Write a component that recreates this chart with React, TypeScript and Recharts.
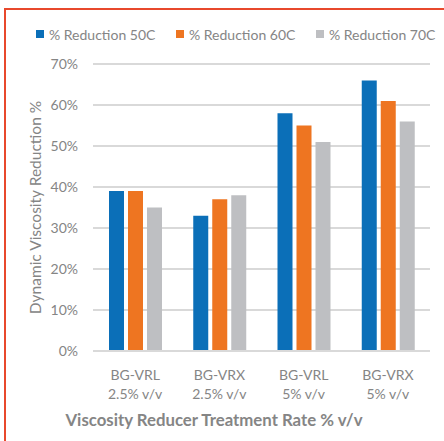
import React from 'react';
import { BarChart, Bar, XAxis, YAxis, CartesianGrid, Legend, Label } from 'recharts';

const categories = ['BG-VRL|2.5% v/v', 'BG-VRX|2.5% v/v', 'BG-VRL|5% v/v', 'BG-VRX|5% v/v'];
const reduction50 = [39, 33, 58, 66];
const reduction60 = [39, 37, 55, 61];
const reduction70 = [35, 38, 51, 56];
const yTicks = [0, 10, 20, 30, 40, 50, 60, 70];

const series = [
  { key: 'r50', name: '% Reduction 50C', color: '#0b6fb8', values: reduction50 },
  { key: 'r60', name: '% Reduction 60C', color: '#ee7521', values: reduction60 },
  { key: 'r70', name: '% Reduction 70C', color: '#bebfc2', values: reduction70 },
];

const data = categories.map((cat, i) => {
  const row: any = { cat };
  series.forEach((s) => {
    row[s.key] = s.values[i];
  });
  return row;
});

const FONT = 'Lato, "Open Sans", sans-serif';
const TEXT = '#858585';

const CategoryTick = (props: any) => {
  const { x, y, payload } = props;
  const [l1, l2] = String(payload.value).split('|');
  return (
    <text x={x} y={y} textAnchor="middle" fill={TEXT} fontSize={14} fontFamily={FONT}>
      <tspan x={x} dy={21}>{l1}</tspan>
      <tspan x={x} dy={19}>{l2}</tspan>
    </text>
  );
};

const LegendContent = () => (
  <div style={{ display: 'flex', height: 20, alignItems: 'center' }}>
    {series.map((s) => (
      <div key={s.key} style={{ width: 140, display: 'flex', alignItems: 'center' }}>
        <span style={{ width: 8, height: 8, background: s.color, display: 'inline-block', marginRight: 5 }} />
        <span style={{ color: TEXT, fontSize: 14, fontFamily: FONT, whiteSpace: 'nowrap' }}>{s.name}</span>
      </div>
    ))}
  </div>
);

const App: React.FC = () => {
  return (
    <div style={{ position: 'absolute', left: 0, top: 0, width: 444, height: 441, background: '#fff' }}>
      <div
        style={{
          position: 'absolute',
          left: 4,
          top: 8,
          width: 440,
          height: 433,
          borderTop: '2px solid #e8482c',
          borderLeft: '2px solid #e8482c',
          boxSizing: 'border-box',
        }}
      />
      <div style={{ position: 'absolute', left: 0, top: 0 }}>
        <BarChart
          width={444}
          height={441}
          data={data}
          margin={{ top: 44, right: 14, bottom: 30, left: 0 }}
          barSize={15}
          barGap={4}
          style={{ fontFamily: FONT }}
        >
          <Legend
            verticalAlign="top"
            content={<LegendContent />}
            wrapperStyle={{ top: 24, left: 36, width: 420, height: 20 }}
          />
          <CartesianGrid vertical={false} stroke="#d9d9d9" strokeWidth={2} />
          <XAxis
            dataKey="cat"
            height={60}
            axisLine={{ stroke: '#d9d9d9', strokeWidth: 2 }}
            tickLine={false}
            tick={<CategoryTick />}
            interval={0}
          >
            <Label
              content={() => (
                <text
                  x={214}
                  y={426}
                  textAnchor="middle"
                  fill={TEXT}
                  fontSize={16.8}
                  fontWeight="bold"
                  fontFamily={FONT}
                >
                  Viscosity Reducer Treatment Rate % v/v
                </text>
              )}
            />
          </XAxis>
          <YAxis
            width={93}
            domain={[0, 70]}
            ticks={yTicks}
            tickFormatter={(v: number) => `${v}%`}
            axisLine={false}
            tickLine={false}
            tickSize={0}
            tickMargin={15}
            tick={{ fill: TEXT, fontSize: 14, fontFamily: FONT }}
          >
            <Label
              content={(p: any) => {
                const vb = p.viewBox || {};
                const cx = 37;
                const cy = (vb.y ?? 64) + (vb.height ?? 287) / 2;
                return (
                  <text
                    x={cx}
                    y={cy}
                    transform={`rotate(-90, ${cx}, ${cy})`}
                    textAnchor="middle"
                    dominantBaseline="middle"
                    fill={TEXT}
                    fontSize={15.5}
                    fontFamily={FONT}
                  >
                    Dynamic Viscosity Reduction %
                  </text>
                );
              }}
            />
          </YAxis>
          {series.map((s) => (
            <Bar key={s.key} dataKey={s.key} name={s.name} fill={s.color} isAnimationActive={false} />
          ))}
        </BarChart>
      </div>
    </div>
  );
};

export default App;
